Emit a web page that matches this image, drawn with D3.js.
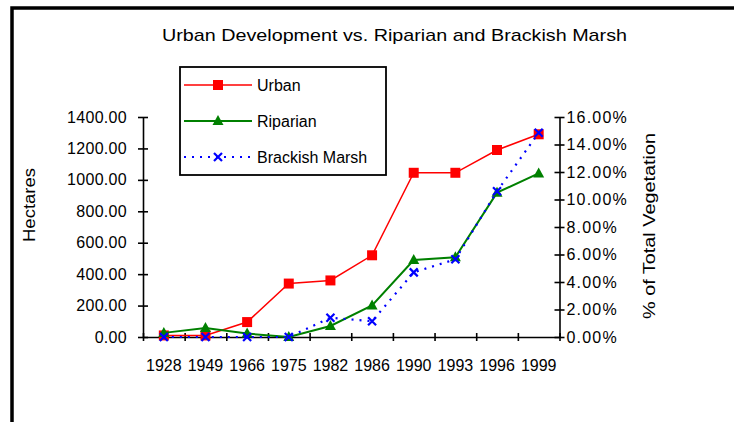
<!DOCTYPE html>
<html>
<head>
<meta charset="utf-8">
<script src="https://cdn.jsdelivr.net/npm/d3@7"></script>
<style>
  body { margin: 0; background: #fff; }
  text { font-family: "Liberation Sans", Arial, sans-serif; font-size: 16px; fill: #000; }
  .domain, .tick line { stroke: #000; stroke-width: 1.6; }
</style>
</head>
<body>
<div id="wrapper"></div>
<script>
// chart values
const years = ["1928", "1949", "1966", "1975", "1982", "1986", "1990", "1993", "1996", "1999"];
const urbanHectares = [10, 10, 95, 340, 360, 520, 1045, 1045, 1190, 1290];
const riparianPct = [0.3, 0.65, 0.25, 0, 0.8, 2.3, 5.6, 5.8, 10.5, 11.9];
const brackishPct = [0, 0, 0, 0, 1.4, 1.15, 4.7, 5.65, 10.6, 14.85];
const hectareTicks = [0, 200, 400, 600, 800, 1000, 1200, 1400];
const pctTicks = [0, 2, 4, 6, 8, 10, 12, 14, 16];
const seriesNames = ["Urban", "Riparian", "Brackish Marsh"];

function drawChart() {

  // 1. Dimensions
  const dimensions = {
    width: 734,
    height: 422,
    plotLeft: 143,
    plotRight: 559.5,
    plotTop: 117,
    plotBottom: 337,
  };

  // 2. Canvas
  const svg = d3.select("#wrapper")
    .append("svg")
      .attr("width", dimensions.width)
      .attr("height", dimensions.height);

  // outer frame (only top and left edges are visible in the picture)
  svg.append("path")
      .attr("d", `M12,${dimensions.height} L12,8 L${dimensions.width},8`)
      .attr("fill", "none")
      .attr("stroke", "#000")
      .attr("stroke-width", 3.5);

  // 3. Scales
  const xScale = d3.scaleBand()
      .domain(years)
      .range([dimensions.plotLeft, dimensions.plotRight]);
  const xTickScale = d3.scaleLinear()
      .domain([0, years.length])
      .range([dimensions.plotLeft, dimensions.plotRight]);
  const yLeft = d3.scaleLinear()
      .domain([0, 1400])
      .range([dimensions.plotBottom, dimensions.plotTop]);
  const yRight = d3.scaleLinear()
      .domain([0, 16])
      .range([dimensions.plotBottom, dimensions.plotTop]);
  const xCenter = d => xScale(d) + xScale.bandwidth() / 2;

  // 4. Axes
  const leftAxis = svg.append("g")
      .attr("transform", `translate(${dimensions.plotLeft},0)`)
      .call(d3.axisLeft(yLeft)
        .tickValues(hectareTicks)
        .tickFormat(d3.format(".2f"))
        .tickSize(5)
        .tickSizeOuter(0)
        .tickPadding(11));
  leftAxis.selectAll(".tick line").attr("x1", 5);
  leftAxis.selectAll(".tick text").style("letter-spacing", "0.3px");

  const rightAxis = svg.append("g")
      .attr("transform", `translate(${dimensions.plotRight},0)`)
      .call(d3.axisRight(yRight)
        .tickValues(pctTicks)
        .tickFormat(d => d.toFixed(2) + "%")
        .tickSize(5)
        .tickSizeOuter(0)
        .tickPadding(2));
  rightAxis.selectAll(".tick line").attr("x1", -5);
  rightAxis.selectAll(".tick text").style("letter-spacing", "1.2px");

  const tickAxis = svg.append("g")
      .attr("transform", `translate(0,${dimensions.plotBottom})`)
      .call(d3.axisBottom(xTickScale)
        .ticks(years.length)
        .tickFormat("")
        .tickSize(4)
        .tickSizeOuter(0));
  tickAxis.selectAll(".tick line").attr("y1", -4);

  const labelAxis = svg.append("g")
      .attr("transform", `translate(0,${dimensions.plotBottom})`)
      .call(d3.axisBottom(xScale).tickSize(0).tickPadding(23));
  labelAxis.select(".domain").remove();

  svg.selectAll(".tick text").style("font-size", "16px");

  // axis titles
  svg.append("text")
      .attr("transform", "translate(29,205) rotate(-90)")
      .attr("text-anchor", "middle")
      .attr("dy", "0.35em")
      .attr("textLength", 74)
      .attr("lengthAdjust", "spacingAndGlyphs")
      .text("Hectares");
  svg.append("text")
      .attr("transform", "translate(649,226) rotate(-90)")
      .attr("text-anchor", "middle")
      .attr("dy", "0.35em")
      .attr("textLength", 186)
      .attr("lengthAdjust", "spacingAndGlyphs")
      .text("% of Total Vegetation");

  // title
  svg.append("text")
      .attr("x", 162)
      .attr("y", 41)
      .attr("textLength", 465)
      .attr("lengthAdjust", "spacingAndGlyphs")
      .style("font-size", "17px")
      .text("Urban Development vs. Riparian and Brackish Marsh");

  // 5. Draw data
  const series = [
    { name: seriesNames[0], values: urbanHectares, y: yLeft, color: "#ff0000", dash: null, marker: "square", width: 1.5 },
    { name: seriesNames[1], values: riparianPct, y: yRight, color: "#008000", dash: null, marker: "triangle", width: 2 },
    { name: seriesNames[2], values: brackishPct, y: yRight, color: "#0000ff", dash: "2,6", marker: "cross", width: 2.2 },
  ];

  const markerPath = (type, x, y) => {
    if (type === "square") {
      return `M${x - 5},${y - 5}h10v10h-10z`;
    }
    if (type === "triangle") {
      return `M${x},${y - 6}L${x + 5.5},${y + 4}L${x - 5.5},${y + 4}z`;
    }
    return `M${x - 4},${y - 4}L${x + 4},${y + 4}M${x + 4},${y - 4}L${x - 4},${y + 4}`;
  };

  series.forEach(s => {
    const line = d3.line()
        .x((d, i) => xCenter(years[i]))
        .y(d => s.y(d));
    svg.append("path")
        .datum(s.values)
        .attr("d", line)
        .attr("fill", "none")
        .attr("stroke", s.color)
        .attr("stroke-width", s.width)
        .attr("stroke-dasharray", s.dash);
    svg.append("g")
      .selectAll("path")
      .data(s.values)
      .join("path")
        .attr("d", (d, i) => markerPath(s.marker, xCenter(years[i]), s.y(d)))
        .attr("fill", s.marker === "cross" ? "none" : s.color)
        .attr("stroke", s.color)
        .attr("stroke-width", s.marker === "cross" ? 2.2 : 0);
  });

  // 6. Legend
  const legend = svg.append("g");
  legend.append("rect")
      .attr("x", 180)
      .attr("y", 67)
      .attr("width", 206)
      .attr("height", 108)
      .attr("fill", "#fff")
      .attr("stroke", "#000")
      .attr("stroke-width", 1.8);

  series.forEach((s, i) => {
    const y = 85 + i * 36;
    legend.append("line")
        .attr("x1", 184)
        .attr("x2", 252)
        .attr("y1", y)
        .attr("y2", y)
        .attr("stroke", s.color)
        .attr("stroke-width", s.width)
        .attr("stroke-dasharray", s.dash);
    legend.append("path")
        .attr("d", markerPath(s.marker, 218, y))
        .attr("fill", s.marker === "cross" ? "none" : s.color)
        .attr("stroke", s.color)
        .attr("stroke-width", s.marker === "cross" ? 2.2 : 0);
    legend.append("text")
        .attr("x", 257)
        .attr("y", y)
        .attr("dy", "0.35em")
        .text(s.name);
  });
}
drawChart();
</script>
</body>
</html>
